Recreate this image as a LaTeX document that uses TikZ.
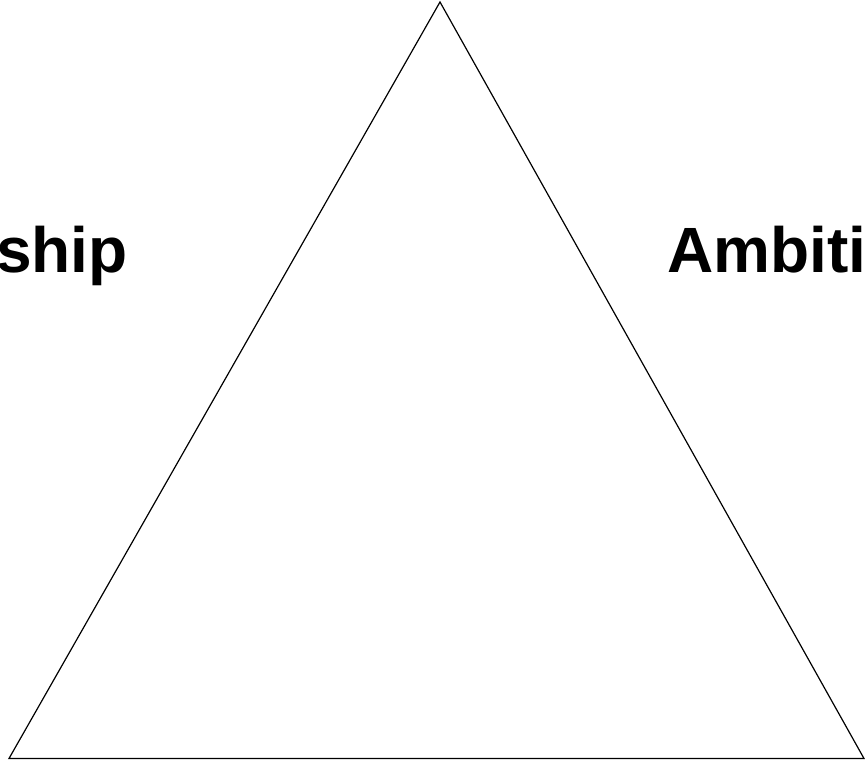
\documentclass[tikz,border=0pt]{standalone}
\usepackage{fontspec}
\setmainfont{Liberation Sans}
\begin{document}
\begin{tikzpicture}[x=1pt,y=1pt,
  lbl/.style={font=\fontsize{64}{68}\selectfont\bfseries, inner sep=0pt},
  edge/.style={draw=black, line width=1.2pt, line join=miter}]
\useasboundingbox (0,0) rectangle (865,761);
\clip (0,0) rectangle (865,761);
\coordinate (top) at (440,759);
\coordinate (bl) at (9,2.5);
\coordinate (br) at (864,2.5);
\draw[edge] (top) -- (bl) -- (br) -- cycle;
\node[lbl, anchor=base east] (left) at (128,488) {ship};
\node[lbl, anchor=base west] (right) at (667,488) {Ambiti};
\end{tikzpicture}
\end{document}
